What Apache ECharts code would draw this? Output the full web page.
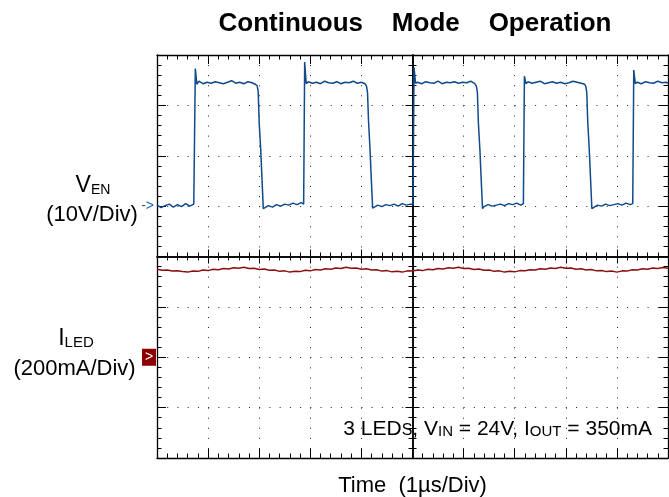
<!DOCTYPE html>
<html><head><meta charset="utf-8">
<script src="https://cdn.jsdelivr.net/npm/echarts@6/dist/echarts.min.js"></script>
<style>html,body{margin:0;padding:0;background:#fff}#c{width:669px;height:497px}</style>
</head><body><div id="c"></div>
<script>
// Time in µs relative to the trigger (centre of screen), 1 µs/div
const venTime = [
 -5.00,-4.92,-4.84,-4.76,-4.68,-4.60,-4.52,-4.44,-4.36,-4.28,
 -4.26,-4.25,-4.22,
 -4.18,-4.10,-4.02,-3.94,-3.86,-3.78,-3.70,-3.62,-3.54,-3.46,-3.38,-3.30,-3.22,-3.14,-3.08,
 -3.04,-3.02,-3.00,-2.97,-2.95,-2.92,
 -2.90,-2.82,-2.74,-2.66,-2.58,-2.50,-2.42,-2.34,-2.26,-2.18,-2.13,
 -2.12,-2.11,-2.08,
 -2.04,-1.96,-1.88,-1.80,-1.72,-1.64,-1.56,-1.48,-1.40,-1.32,-1.24,-1.16,-1.08,-1.00,-0.93,
 -0.90,-0.88,-0.86,-0.83,-0.81,-0.78,
 -0.76,-0.68,-0.60,-0.52,-0.44,-0.36,-0.28,-0.20,-0.12,-0.04,0.01,
 0.02,0.03,0.06,
 0.10,0.18,0.26,0.34,0.42,0.50,0.58,0.66,0.74,0.82,0.90,0.98,1.06,1.14,1.22,
 1.25,1.27,1.29,1.32,1.34,1.37,
 1.40,1.48,1.56,1.64,1.72,1.80,1.88,1.96,2.04,2.12,2.17,
 2.18,2.19,2.22,
 2.26,2.34,2.42,2.50,2.58,2.66,2.74,2.82,2.90,2.98,3.06,3.14,3.22,3.30,3.37,
 3.39,3.41,3.43,3.46,3.48,3.51,
 3.54,3.62,3.70,3.78,3.86,3.94,4.02,4.10,4.18,4.26,4.31,
 4.32,4.33,4.36,
 4.40,4.48,4.56,4.64,4.72,4.80,4.88,4.96,5.00
];
// V_EN in volts (10 V/div)
const venVolts = [
 0.2,-0.3,0.1,0.4,-0.2,0.3,-0.1,0.5,0.0,0.4,
 0.3,27.3,24.2,
 24.8,24.3,24.6,24.4,24.7,24.5,24.3,24.6,24.9,24.4,24.6,24.3,24.7,24.5,24.2,
 23.9,22.8,16.5,11.2,6.5,-0.5,
 -0.3,0.1,-0.2,0.3,0.0,0.4,0.2,0.6,0.3,0.7,0.4,
 0.5,28.6,24.3,
 24.7,24.4,24.6,24.3,24.8,24.5,24.4,24.7,24.3,24.6,24.5,24.8,24.4,24.6,24.3,
 23.8,22.5,16.8,11.0,6.2,-0.4,
 -0.2,0.2,-0.1,0.3,0.1,0.4,0.0,0.5,0.2,0.4,0.3,
 0.4,27.5,24.4,
 24.6,24.3,24.7,24.5,24.4,24.8,24.3,24.6,24.5,24.7,24.4,24.6,24.5,24.8,24.3,
 23.8,22.6,16.4,11.0,6.3,-0.5,
 -0.1,0.3,0.0,0.2,0.4,0.1,0.5,0.3,0.6,0.2,0.5,
 0.6,25.8,24.3,
 24.7,24.4,24.6,24.8,24.3,24.5,24.7,24.4,24.6,24.3,24.5,24.8,24.6,24.4,24.2,
 23.8,22.7,16.6,11.1,6.4,-0.5,
 -0.2,0.2,0.0,0.4,0.1,0.3,0.5,0.2,0.6,0.3,0.5,
 0.6,27.0,24.3,
 24.6,24.3,24.7,24.5,24.4,24.8,24.5,24.6,24.4
];
const iledTime = [
 -5.0,-4.9,-4.8,-4.7,-4.6,-4.5,-4.4,-4.3,-4.2,-4.1,
 -4.0,-3.9,-3.8,-3.7,-3.6,-3.5,-3.4,-3.3,-3.2,-3.1,
 -3.0,-2.9,-2.8,-2.7,-2.6,-2.5,-2.4,-2.3,-2.2,-2.1,
 -2.0,-1.9,-1.8,-1.7,-1.6,-1.5,-1.4,-1.3,-1.2,-1.1,
 -1.0,-0.9,-0.8,-0.7,-0.6,-0.5,-0.4,-0.3,-0.2,-0.1,
 0.0,0.1,0.2,0.3,0.4,0.5,0.6,0.7,0.8,0.9,
 1.0,1.1,1.2,1.3,1.4,1.5,1.6,1.7,1.8,1.9,
 2.0,2.1,2.2,2.3,2.4,2.5,2.6,2.7,2.8,2.9,
 3.0,3.1,3.2,3.3,3.4,3.5,3.6,3.7,3.8,3.9,
 4.0,4.1,4.2,4.3,4.4,4.5,4.6,4.7,4.8,4.9,5.0
];
// I_LED in mA (200 mA/div)
const iledMilliamps = [
 349,345,346,342,343,340,338,342,341,346,
 344,349,347,352,350,355,353,357,352,353,
 348,350,345,346,341,343,338,341,340,345,
 343,348,346,351,349,354,352,357,353,354,
 349,351,346,347,342,344,339,341,338,343,
 342,346,344,349,347,352,350,355,353,357,
 352,353,348,350,345,346,341,343,338,341,
 339,344,343,347,346,351,349,354,352,357,
 353,354,349,351,346,348,343,344,340,342,
 338,343,342,347,346,351,349,354,352,356,353
];
// marker labels on the division axis (zero levels of each channel)
const channelMarkers = { '1': 'ven', '-2': 'iled' };

const FONT = '"Liberation Sans", Arial, Helvetica, sans-serif';
const K = '#000';

function frameX(pos, split) {
  return {
    type: 'value', min: -5, max: 5, interval: 1, position: pos,
    axisLabel: { show: false },
    axisLine: { show: true, onZero: false, lineStyle: { color: K, width: 1.3 } },
    axisTick: { show: true, inside: true, length: 9, lineStyle: { color: K, width: 1 } },
    minorTick: { show: true, splitNumber: 5, length: 4.5, lineStyle: { color: K, width: 1 } },
    splitLine: { show: !!split, lineStyle: { color: '#222', width: 1, type: [1, 9.075] } }
  };
}
function centerX(inside) {
  return {
    type: 'value', min: -5, max: 5, interval: 1, position: 'bottom',
    axisLabel: { show: false },
    axisLine: { show: true, onZero: true, onZeroAxisIndex: 0, lineStyle: { color: K, width: 1.5 } },
    axisTick: { show: true, inside: inside, length: 7, lineStyle: { color: K, width: 1 } },
    minorTick: { show: true, splitNumber: 5, length: 4, lineStyle: { color: K, width: 1 } },
    splitLine: { show: false }
  };
}
function frameY(pos, split, label) {
  return {
    type: 'value', min: -4, max: 4, interval: 1, position: pos,
    axisLabel: label || { show: false },
    axisLine: { show: true, onZero: false, lineStyle: { color: K, width: 1.3 } },
    axisTick: { show: true, inside: true, length: 9, lineStyle: { color: K, width: 1 } },
    minorTick: { show: true, splitNumber: 5, length: 4.5, lineStyle: { color: K, width: 1 } },
    splitLine: { show: !!split, lineStyle: { color: '#222', width: 1, type: [1, 9.22] } }
  };
}
function centerY(inside) {
  return {
    type: 'value', min: -4, max: 4, interval: 1, position: 'left',
    axisLabel: { show: false },
    axisLine: { show: true, onZero: true, onZeroAxisIndex: 0, lineStyle: { color: K, width: 1.5 } },
    axisTick: { show: true, inside: inside, length: 7, lineStyle: { color: K, width: 1 } },
    minorTick: { show: true, splitNumber: 5, length: 4, lineStyle: { color: K, width: 1 } },
    splitLine: { show: false }
  };
}

const xBottom = frameX('bottom', true);
xBottom.name = 'Time  (1\u00B5s/Div)';
xBottom.nameLocation = 'middle';
xBottom.nameGap = 17;
xBottom.nameTextStyle = { fontSize: 22, color: K, fontFamily: FONT };

const markerLabel = {
  show: true, margin: 1,
  formatter: function (v) {
    const m = channelMarkers[String(v)];
    if (m === 'ven') return '{a|->}';
    if (m === 'iled') return '{b|>}';
    return '';
  },
  rich: {
    a: { color: '#1f5fa8', fontSize: 14, fontFamily: FONT, padding: [0, 2, 0, 0] },
    b: { color: '#fff', backgroundColor: '#8b0000', fontSize: 14, fontFamily: FONT,
         width: 14, height: 17, lineHeight: 17, align: 'center' }
  }
};

function txt(x, y, text, size, align, rich, weight) {
  return {
    type: 'text', x: x, y: y, silent: true,
    style: {
      text: text, fill: K, fontSize: size, fontFamily: FONT, fontWeight: weight || 'normal',
      align: align, textAlign: align, verticalAlign: 'middle', textVerticalAlign: 'middle',
      rich: rich
    }
  };
}
function tok(size, padTop) {
  return { fontSize: size, fontFamily: FONT, fill: K, color: K, verticalAlign: 'middle',
           padding: [padTop || 0, 0, 0, 0] };
}

const chart = echarts.init(document.getElementById('c'), null, { renderer: 'canvas' });
chart.setOption({
  animation: false,
  backgroundColor: '#fff',
  grid: { left: 157, top: 55, width: 511, height: 403, containLabel: false, outerBoundsMode: 'none' },
  xAxis: [xBottom, frameX('top', false), centerX(true), centerX(false)],
  yAxis: [
    frameY('left', true, markerLabel), frameY('right', false), centerY(true), centerY(false),
    { type: 'value', show: false, min: -50, max: 30, interval: 10 },
    { type: 'value', show: false, min: -400, max: 1200, interval: 200 }
  ],
  series: [
    { name: 'VEN', type: 'line', xAxisIndex: 0, yAxisIndex: 4, showSymbol: false, symbol: 'none',
      lineStyle: { color: '#0f4a8c', width: 1.5 }, z: 5,
      data: venTime.map((t, i) => [t, venVolts[i]]) },
    { name: 'ILED', type: 'line', xAxisIndex: 0, yAxisIndex: 5, showSymbol: false, symbol: 'none',
      lineStyle: { color: '#8b1010', width: 1.5 }, z: 5,
      data: iledTime.map((t, i) => [t, iledMilliamps[i]]) }
  ],
  graphic: [
    txt(415, 24, 'Continuous    Mode    Operation', 26, 'center', null, 'bold'),
    txt(93, 186, '{v|V}{s|EN}', 23, 'center', { v: tok(23), s: tok(14, 8) }),
    txt(92, 215, '(10V/Div)', 22, 'center'),
    txt(76, 339, '{v|I}{s|LED}', 23, 'center', { v: tok(23), s: tok(15, 7) }),
    txt(74.5, 369, '(200mA/Div)', 22, 'center'),
    txt(652, 429.5, '{n|3 LED}{c|S}{n|, V}{d|IN}{n| = 24V, I}{d|OUT}{n| = 350mA}', 21, 'right',
        { n: tok(21), c: tok(16, 3), d: tok(15, 4) })
  ]
});
</script></body></html>
